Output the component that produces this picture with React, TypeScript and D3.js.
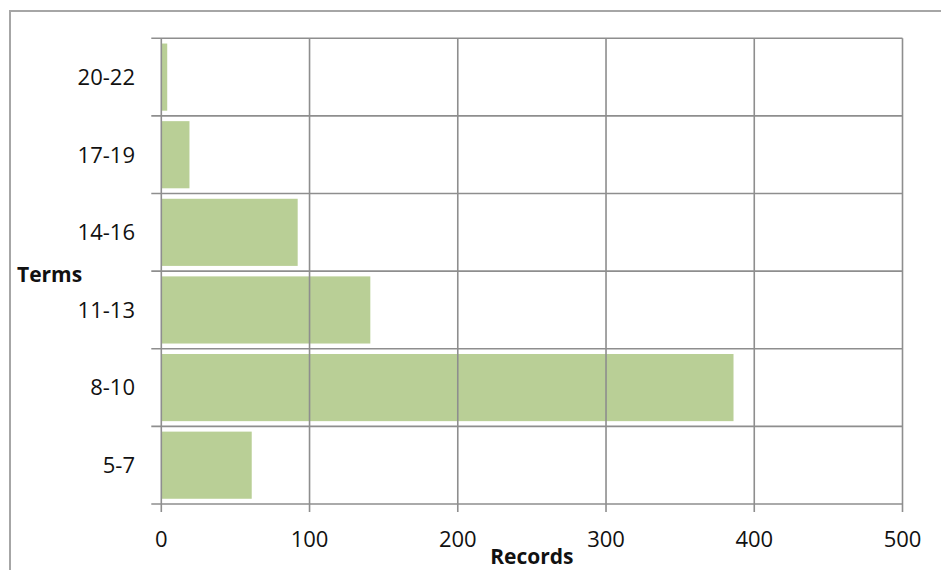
import React from "react";
import * as d3 from "d3";

// Number of records per term range
const categories = ["5-7", "8-10", "11-13", "14-16", "17-19", "20-22"];
const records = [61, 386, 141, 92, 19, 4];
const xTicks = [0, 100, 200, 300, 400, 500];

const W = 941;
const H = 570;
const margin = { left: 161.3, right: 941 - 902.5, top: 38.3, bottom: 570 - 504 };
const FONT = "'Open Sans', 'DejaVu Sans', sans-serif";
const GRID = "#8e8e8e";
const BAR = "#b9cf96";
const INNER = 0.135;

export default function App() {
  const x = d3.scaleLinear().domain([0, 500]).range([margin.left, W - margin.right]);
  const y = d3
    .scaleBand<string>()
    .domain([...categories].reverse())
    .range([margin.top, H - margin.bottom])
    .paddingInner(INNER)
    .paddingOuter(INNER / 2);
  const step = y.step();
  const half = (step * INNER) / 2;
  // band boundaries: top of each band plus the bottom edge
  const bandEdges = [...y.domain().map((c) => (y(c) as number) - half), H - margin.bottom];
  const x0 = x(0);
  const yBottom = H - margin.bottom;

  return (
    <svg
      width={W}
      height={H}
      style={{ position: "absolute", left: 0, top: 0, background: "#fff" }}
      fontFamily={FONT}
    >
      {/* chart frame */}
      <rect x={10} y={11} width={W + 10} height={H + 10} fill="#fff" stroke="#a6a6a6" strokeWidth={2} />

      {/* bars */}
      {categories.map((c, i) => (
        <rect
          key={c}
          x={x0}
          y={y(c)}
          width={x(records[i]) - x0}
          height={y.bandwidth()}
          fill={BAR}
        />
      ))}

      {/* vertical gridlines */}
      {xTicks.map((t) => (
        <line key={"v" + t} x1={x(t)} x2={x(t)} y1={margin.top} y2={yBottom + 8} stroke={GRID} strokeWidth={1.6} />
      ))}
      {/* horizontal gridlines with category ticks */}
      {bandEdges.map((e, i) => (
        <line key={"h" + i} x1={margin.left - 10} x2={x(500)} y1={e} y2={e} stroke={GRID} strokeWidth={1.6} />
      ))}

      {/* category labels */}
      {categories.map((c) => (
        <text
          key={"l" + c}
          x={135}
          y={(y(c) as number) + y.bandwidth() / 2}
          dy="0.36em"
          textAnchor="end"
          fontSize={22}
          fill="#111"
        >
          {c}
        </text>
      ))}

      {/* value tick labels */}
      {xTicks.map((t) => (
        <text key={"t" + t} x={x(t)} y={546.5} textAnchor="middle" fontSize={22} fill="#111">
          {t}
        </text>
      ))}

      {/* axis titles */}
      <text x={17} y={274} dy="0.36em" fontSize={21} fontWeight="bold" fill="#111">
        Terms
      </text>
      <text x={(x(0) + x(500)) / 2} y={564} textAnchor="middle" fontSize={21} fontWeight="bold" fill="#111">
        Records
      </text>
    </svg>
  );
}
